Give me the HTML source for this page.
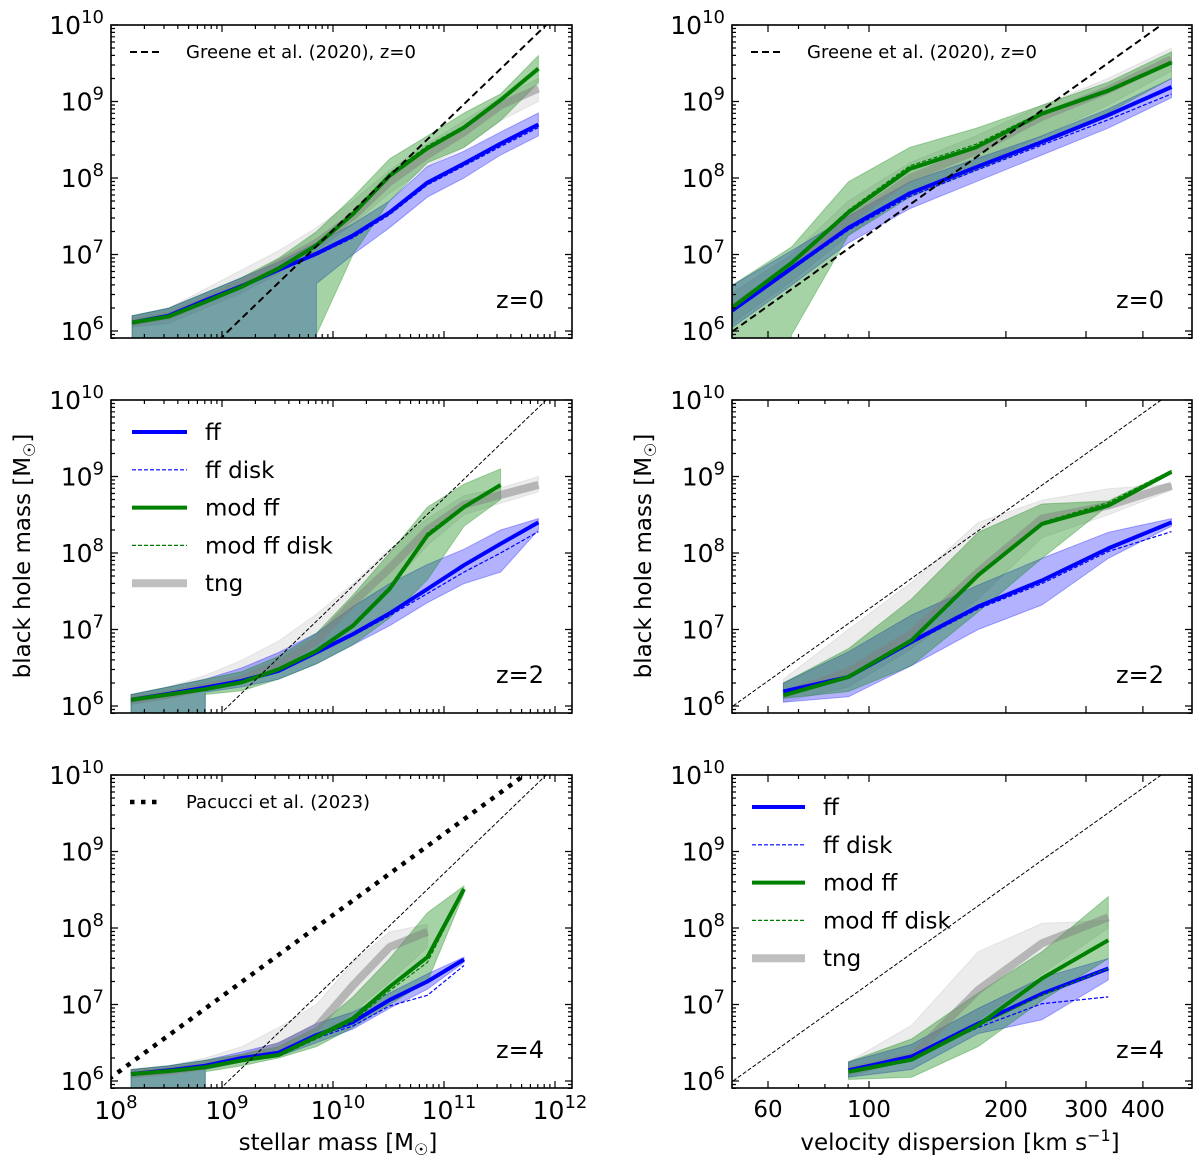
<!DOCTYPE html>
<html>
<head>
<meta charset="utf-8">
<style>
html,body{margin:0;padding:0;background:#fff;overflow:hidden;width:1200px;height:1172px;}
svg{display:block;font-family:"DejaVu Sans","Liberation Sans",sans-serif;}
</style>
</head>
<body>
<svg id="fig" width="1200" height="1172" viewBox="0 0 1200 1172" xmlns="http://www.w3.org/2000/svg"></svg>
<script>
// ---------- data (log10 values) ; -20 marks empty lower bound ----------
// z=0, stellar mass panel
const tl_x = [8.19,8.52,8.85,9.18,9.51,9.85,10.18,10.51,10.85,11.18,11.51,11.85];
const tl_ff = [6.11,6.20,6.40,6.59,6.80,7.01,7.25,7.55,7.94,8.19,8.45,8.70];
const tl_ffdisk = [6.10,6.19,6.39,6.58,6.79,6.99,7.22,7.52,7.91,8.16,8.41,8.66];
const tl_mod = [6.11,6.19,6.38,6.58,6.82,7.12,7.53,8.03,8.39,8.66,9.02,9.43];
const tl_moddisk = [6.11,6.19,6.38,6.58,6.83,7.14,7.56,8.06,8.42,8.68,9.03,9.42];
const tl_tng = [6.11,6.20,6.40,6.62,6.88,7.15,7.50,7.95,8.30,8.60,8.95,9.17];
const tl_ffLo = [-20,-20,-20,-20,-20,6.62,7.00,7.35,7.75,8.00,8.30,8.55];
const tl_ffHi = [6.20,6.30,6.50,6.70,6.90,7.15,7.40,7.70,8.15,8.35,8.60,8.85];
const tl_modLo = [-20,-20,-20,-20,-20,5.95,7.00,7.70,8.20,8.40,8.75,9.25];
const tl_modHi = [6.20,6.30,6.50,6.70,6.95,7.30,7.75,8.25,8.55,8.85,9.10,9.60];
const tl_tngLo = [6.05,6.10,6.30,6.50,6.75,7.05,7.40,7.80,8.15,8.40,8.75,9.00];
const tl_tngHi = [6.20,6.30,6.55,6.80,7.05,7.35,7.70,8.10,8.45,8.75,9.05,9.30];

// z=0, velocity dispersion panel
const tr_x = [1.70,1.83,1.955,2.09,2.235,2.38,2.525,2.665];
const tr_ff = [6.27,6.82,7.35,7.80,8.14,8.47,8.82,9.19];
const tr_ffdisk = [6.25,6.80,7.32,7.76,8.10,8.43,8.76,9.10];
const tr_mod = [6.31,6.89,7.55,8.12,8.40,8.84,9.14,9.51];
const tr_moddisk = [6.31,6.90,7.58,8.16,8.44,8.86,9.15,9.52];
const tr_tng = [6.30,6.85,7.45,8.00,8.35,8.80,9.15,9.55];
const tr_ffLo = [6.05,6.60,7.15,7.60,7.95,8.30,8.65,9.05];
const tr_ffHi = [6.60,7.05,7.50,7.95,8.25,8.55,8.90,9.30];
const tr_modLo = [-20,5.95,7.25,7.75,8.10,8.45,8.85,9.30];
const tr_modHi = [6.60,7.10,7.95,8.40,8.65,8.95,9.25,9.65];
const tr_tngLo = [6.10,6.65,7.25,7.80,8.15,8.55,8.95,9.40];
const tr_tngHi = [6.50,7.00,7.70,8.20,8.55,8.95,9.30,9.70];

// z=2, stellar mass panel
const ml_x = [8.18,8.52,8.85,9.18,9.51,9.85,10.18,10.51,10.85,11.18,11.51,11.85];
const ml_ff = [6.08,6.16,6.24,6.33,6.46,6.70,6.94,7.21,7.53,7.84,8.12,8.40];
const ml_ffdisk = [6.08,6.16,6.24,6.33,6.46,6.69,6.92,7.18,7.47,7.75,8.00,8.28];
const ml_mod = [6.08,6.15,6.22,6.31,6.48,6.72,7.05,7.53,8.23,8.60,8.89];
const ml_moddisk = [6.08,6.15,6.22,6.31,6.48,6.73,7.07,7.56,8.26,8.62,8.88];
const ml_tng = [6.08,6.15,6.25,6.35,6.55,6.85,7.35,7.80,8.30,8.63,8.76,8.89];
const ml_ffLo = [-20,-20,6.18,6.25,6.35,6.55,6.80,7.05,7.35,7.60,7.75,8.30];
const ml_ffHi = [6.15,6.25,6.35,6.50,6.70,6.95,7.30,7.60,7.85,8.05,8.30,8.45];
const ml_modLo = [-20,-20,6.15,6.20,6.35,6.55,6.80,7.15,7.65,8.35,8.70];
const ml_modHi = [6.15,6.25,6.35,6.45,6.65,6.95,7.45,8.00,8.60,8.90,9.10];
const ml_tngLo = [6.02,6.10,6.20,6.30,6.45,6.70,7.10,7.55,8.10,8.50,8.65,8.80];
const ml_tngHi = [6.15,6.25,6.40,6.60,6.85,7.20,7.60,8.05,8.45,8.75,8.85,9.00];

// z=2, velocity dispersion panel
const mr_x = [1.812,1.955,2.094,2.24,2.38,2.526,2.665];
const mr_ff = [6.19,6.38,6.84,7.30,7.64,8.06,8.40];
const mr_ffdisk = [6.18,6.37,6.82,7.27,7.60,8.02,8.28];
const mr_mod = [6.14,6.38,6.86,7.71,8.38,8.62,9.06];
const mr_moddisk = [6.14,6.38,6.87,7.73,8.40,8.66,9.08];
const mr_tng = [6.15,6.45,6.95,7.75,8.45,8.62,8.88];
const mr_ffLo = [6.05,6.12,6.53,7.00,7.32,7.93,8.35];
const mr_ffHi = [6.30,6.71,7.19,7.58,7.93,8.27,8.45];
const mr_modLo = [6.10,6.19,6.53,7.23,7.93,8.62,9.05];
const mr_modHi = [6.30,6.75,7.40,8.27,8.64,8.68,9.08];
const mr_tngLo = [6.05,6.25,6.75,7.40,8.20,8.50,8.82];
const mr_tngHi = [6.35,7.00,7.62,8.40,8.69,8.84,8.90];

// z=4, stellar mass panel
const bl_x = [8.18,8.52,8.85,9.18,9.51,9.85,10.18,10.51,10.85,11.18];
const bl_ff = [6.09,6.14,6.20,6.30,6.37,6.60,6.77,7.06,7.30,7.59];
const bl_ffdisk = [6.09,6.14,6.20,6.29,6.35,6.56,6.72,6.98,7.12,7.51];
const bl_mod = [6.09,6.13,6.18,6.27,6.34,6.58,6.82,7.23,7.62,8.51];
const bl_moddisk = [6.09,6.13,6.18,6.26,6.32,6.55,6.78,7.18,7.55,8.50];
const bl_tng = [6.09,6.13,6.20,6.30,6.45,6.70,7.25,7.75,7.95];
const bl_ffLo = [-20,-20,6.15,6.25,6.32,6.50,6.68,6.95,7.20,7.55];
const bl_ffHi = [6.15,6.20,6.27,6.38,6.50,6.75,6.90,7.15,7.40,7.62];
const bl_modLo = [-20,-20,6.12,6.20,6.30,6.45,6.70,7.00,7.30,8.45];
const bl_modHi = [6.15,6.20,6.27,6.35,6.45,6.70,7.10,7.60,8.20,8.55];
const bl_tngLo = [6.05,6.10,6.15,6.25,6.35,6.55,6.90,7.30,7.75];
const bl_tngHi = [6.15,6.20,6.30,6.45,6.70,7.00,7.55,7.95,8.05];

// z=4, velocity dispersion panel
const br_x = [1.955,2.094,2.24,2.38,2.526];
const br_ff = [6.14,6.32,6.75,7.14,7.47];
const br_ffdisk = [6.13,6.30,6.70,7.01,7.10];
const br_mod = [6.12,6.28,6.73,7.34,7.84];
const br_moddisk = [6.12,6.29,6.72,7.12,7.47];
const br_tng = [6.13,6.32,7.19,7.80,8.14];
const br_ffLo = [6.05,6.15,6.62,6.80,7.32];
const br_ffHi = [6.25,6.48,6.95,7.35,7.60];
const br_modLo = [6.02,6.05,6.45,7.05,7.60];
const br_modHi = [6.25,6.55,7.15,7.69,8.41];
const br_tngLo = [6.05,6.30,6.80,7.40,8.00];
const br_tngHi = [6.25,6.73,7.69,8.06,8.10];

// reference relations
const greene_mass_x = [8.9, 12.3];
const greene_mass_y = [5.78, 10.53];
const greene_sigma_x = [1.68, 2.72];
const greene_sigma_y = [5.91, 10.33];
const pacucci_x = [7.9, 12.3];
const pacucci_y = [5.94, 10.61];

// tick labels
const massTicks = [8,9,10,11,12];
const sigmaTicks = [60,100,200,300,400];
const sigmaMinor = [50,70,80,90];
const bhTicks = [6,7,8,9,10];

// ---------- geometry ----------
const NS = 'http://www.w3.org/2000/svg';
const svg = document.getElementById('fig');
const COLS = [{x0:111,x1:572,lo:8,hi:8+461/111},{x0:732,x1:1192,lo:1.699,hi:1.699+460/455}];
const ROWS = [25,400,775];
const PH = 313, DEC = 76.5;
function el(tag, parent){const e=document.createElementNS(NS,tag); parent.appendChild(e); return e;}
function sx(c,v){return c.x0+(v-c.lo)/(c.hi-c.lo)*(c.x1-c.x0);}
function sy(t,v){return t+(10-v)*DEC;}
function pts(c,t,xs,ys){return xs.slice(0,ys.length).map((x,i)=>sx(c,x).toFixed(1)+','+sy(t,ys[i]).toFixed(1)).join(' ');}

const panels = [
 {key:'z0-mass',c:0,r:0,x:tl_x,ff:tl_ff,ffd:tl_ffdisk,mod:tl_mod,modd:tl_moddisk,tng:tl_tng,ffLo:tl_ffLo,ffHi:tl_ffHi,modLo:tl_modLo,modHi:tl_modHi,tngLo:tl_tngLo,tngHi:tl_tngHi,z:'z=0'},
 {key:'z0-sigma',c:1,r:0,x:tr_x,ff:tr_ff,ffd:tr_ffdisk,mod:tr_mod,modd:tr_moddisk,tng:tr_tng,ffLo:tr_ffLo,ffHi:tr_ffHi,modLo:tr_modLo,modHi:tr_modHi,tngLo:tr_tngLo,tngHi:tr_tngHi,z:'z=0'},
 {key:'z2-mass',c:0,r:1,x:ml_x,ff:ml_ff,ffd:ml_ffdisk,mod:ml_mod,modd:ml_moddisk,tng:ml_tng,ffLo:ml_ffLo,ffHi:ml_ffHi,modLo:ml_modLo,modHi:ml_modHi,tngLo:ml_tngLo,tngHi:ml_tngHi,z:'z=2'},
 {key:'z2-sigma',c:1,r:1,x:mr_x,ff:mr_ff,ffd:mr_ffdisk,mod:mr_mod,modd:mr_moddisk,tng:mr_tng,ffLo:mr_ffLo,ffHi:mr_ffHi,modLo:mr_modLo,modHi:mr_modHi,tngLo:mr_tngLo,tngHi:mr_tngHi,z:'z=2'},
 {key:'z4-mass',c:0,r:2,x:bl_x,ff:bl_ff,ffd:bl_ffdisk,mod:bl_mod,modd:bl_moddisk,tng:bl_tng,ffLo:bl_ffLo,ffHi:bl_ffHi,modLo:bl_modLo,modHi:bl_modHi,tngLo:bl_tngLo,tngHi:bl_tngHi,z:'z=4'},
 {key:'z4-sigma',c:1,r:2,x:br_x,ff:br_ff,ffd:br_ffdisk,mod:br_mod,modd:br_moddisk,tng:br_tng,ffLo:br_ffLo,ffHi:br_ffHi,modLo:br_modLo,modHi:br_modHi,tngLo:br_tngLo,tngHi:br_tngHi,z:'z=4'}
];

const defs = el('defs', svg);

panels.forEach(p=>{
  const c = COLS[p.c], t = ROWS[p.r], b = t+PH;
  const g = el('g', svg);
  
  
  const cp = el('clipPath', defs); cp.setAttribute('id','clip-'+p.key);
  const cr = el('rect', cp); cr.setAttribute('x',c.x0); cr.setAttribute('y',t); cr.setAttribute('width',c.x1-c.x0); cr.setAttribute('height',PH);
  const pg = el('g', g); pg.setAttribute('clip-path','url(#clip-'+p.key+')');
  
  

  function band(lo,hi,fill,stroke,name){
    const n = Math.min(lo.length,hi.length);
    const xs = p.x.slice(0,n);
    const up = pts(c,t,xs,hi.slice(0,n));
    const low = [];
    let prevEmpty = false;
    for(let i=0;i<n;i++){
      const X = sx(c,xs[i]).toFixed(1);
      if(lo[i] <= -10){ low.push(X+','+(b+2)); prevEmpty = true; }
      else {
        if(prevEmpty) low.push(X+','+(b+2));
        low.push(X+','+Math.min(sy(t,lo[i]),b+2).toFixed(1));
        prevEmpty = false;
      }
    }
    const poly = el('polygon', pg);
    
    
    poly.setAttribute('points', up+' '+low.reverse().join(' '));
    poly.setAttribute('fill', fill);
    poly.setAttribute('stroke', stroke);
    poly.setAttribute('stroke-width','1');
  }
  function line(ys,stroke,w,dash,name,op){
    const pl = el('polyline', pg);
    
    
    pl.setAttribute('points', pts(c,t,p.x,ys));
    pl.setAttribute('fill','none');
    pl.setAttribute('stroke',stroke);
    pl.setAttribute('stroke-width',w);
    pl.setAttribute('stroke-linejoin','round');
    if(dash) pl.setAttribute('stroke-dasharray',dash);
    if(op) pl.setAttribute('stroke-opacity',op);
  }
  band(p.tngLo,p.tngHi,'rgba(128,128,128,0.15)','rgba(128,128,128,0.15)','tng-band');
  band(p.ffLo,p.ffHi,'rgba(0,0,255,0.3)','rgba(0,0,255,0.3)','ff-band');
  band(p.modLo,p.modHi,'rgba(0,128,0,0.35)','rgba(0,128,0,0.3)','mod-ff-band');
  line(p.tng,'#808080',8,null,'tng-line','0.5');
  line(p.ff,'#0000ff',4,null,'ff-line');
  line(p.ffd,'#0000ff',1.2,'4,2','ff-disk-line');
  line(p.mod,'#008000',4,null,'mod-ff-line');
  line(p.modd,'#008000',1.2,'4,2','mod-ff-disk-line');

  const ref = el('line', pg);
  
  
  const rx = p.c===0?greene_mass_x:greene_sigma_x, ry = p.c===0?greene_mass_y:greene_sigma_y;
  ref.setAttribute('x1',sx(c,rx[0])); ref.setAttribute('y1',sy(t,ry[0]));
  ref.setAttribute('x2',sx(c,rx[1])); ref.setAttribute('y2',sy(t,ry[1]));
  ref.setAttribute('stroke','#000');
  if(p.r===0){ref.setAttribute('stroke-width','2'); ref.setAttribute('stroke-dasharray','7,4');}
  else {ref.setAttribute('stroke-width','1'); ref.setAttribute('stroke-dasharray','4,2');}
  if(p.key==='z4-mass'){
    const pa = el('line', pg);
    
    
    pa.setAttribute('x1',sx(c,pacucci_x[0])); pa.setAttribute('y1',sy(t,pacucci_y[0]));
    pa.setAttribute('x2',sx(c,pacucci_x[1])); pa.setAttribute('y2',sy(t,pacucci_y[1]));
    pa.setAttribute('stroke','#000'); pa.setAttribute('stroke-width','4.5'); pa.setAttribute('stroke-dasharray','4.5,6.5');
  }

  const fr = el('rect', g);
  
  
  fr.setAttribute('x',c.x0); fr.setAttribute('y',t); fr.setAttribute('width',c.x1-c.x0); fr.setAttribute('height',PH);
  fr.setAttribute('fill','none'); fr.setAttribute('stroke','#000'); fr.setAttribute('stroke-width','1.6');

  let tp = '';
  function xt(v,len){const X=sx(c,v); if(X<c.x0-0.5||X>c.x1+0.5) return; tp+=`M${X.toFixed(1)},${b}v${-len}M${X.toFixed(1)},${t}v${len}`;}
  function yt(v,len){const Y=sy(t,v); if(Y<t-0.5||Y>b+0.5) return; tp+=`M${c.x0},${Y.toFixed(1)}h${len}M${c.x1},${Y.toFixed(1)}h${-len}`;}
  if(p.c===0){
    for(let d=7;d<=12;d++){ for(let k=1;k<=9;k++){ xt(d+Math.log10(k), k===1?7:4); } }
  } else {
    sigmaTicks.forEach(v=>xt(Math.log10(v),7));
    sigmaMinor.forEach(v=>xt(Math.log10(v),4));
  }
  for(let d=5;d<=10;d++){ for(let k=1;k<=9;k++){ yt(d+Math.log10(k), k===1?7:4); } }
  const tk = el('path', g);
  
  
  tk.setAttribute('d',tp); tk.setAttribute('stroke','#000'); tk.setAttribute('stroke-width','1.2'); tk.setAttribute('fill','none');

  bhTicks.forEach(v=>{
    const tx = el('text', g);
    
    
    tx.setAttribute('x', c.x0-7); tx.setAttribute('y', sy(t,v)+9);
    tx.setAttribute('text-anchor','end'); tx.setAttribute('font-size','25');
    tx.innerHTML = '10<tspan font-size="18" dy="-11">'+v+'</tspan>';
  });
  if(p.r===2){
    if(p.c===0){
      massTicks.forEach(v=>{
        const tx = el('text', g);
        
        
        tx.setAttribute('x', sx(c,v)+5); tx.setAttribute('y', b+31);
        tx.setAttribute('text-anchor','middle'); tx.setAttribute('font-size','25');
        tx.innerHTML = '10<tspan font-size="18" dy="-11">'+v+'</tspan>';
      });
    } else {
      sigmaTicks.forEach(v=>{
        const tx = el('text', g);
        
        
        tx.setAttribute('x', sx(c,Math.log10(v))); tx.setAttribute('y', b+29);
        tx.setAttribute('text-anchor','middle'); tx.setAttribute('font-size','23');
        tx.textContent = v;
      });
    }
  }
  const zl = el('text', g);
  
  
  zl.setAttribute('x', c.x1-28); zl.setAttribute('y', t+283);
  zl.setAttribute('text-anchor','end'); zl.setAttribute('font-size','24');
  zl.textContent = p.z;

  if(p.r===0 || p.key==='z4-mass'){
    const lg = el('g', g);
    
    
    const h = el('line', lg);
    h.setAttribute('x1',c.x0+19); h.setAttribute('x2',c.x0+52); h.setAttribute('y1',t+27); h.setAttribute('y2',t+27);
    h.setAttribute('stroke','#000');
    if(p.r===0){h.setAttribute('stroke-width','2'); h.setAttribute('stroke-dasharray','7,4');}
    else {h.setAttribute('stroke-width','4.5'); h.setAttribute('stroke-dasharray','4.5,6.5');}
    const lt = el('text', lg);
    lt.setAttribute('x', c.x0+75); lt.setAttribute('y', t+33); lt.setAttribute('font-size','18');
    lt.textContent = p.r===0 ? 'Greene et al. (2020), z=0' : 'Pacucci et al. (2023)';
  }

  if(p.key==='z2-mass' || p.key==='z4-sigma'){
    const lg = el('g', g);
    
    
    const items = [['ff','#0000ff',4,null,1],['ff disk','#0000ff',1.2,'4,2',1],['mod ff','#008000',4,null,1],['mod ff disk','#008000',1.2,'4,2',1],['tng','#808080',8,null,0.5]];
    const hx0 = p.c===0?c.x0+21:c.x0+20, hx1 = p.c===0?c.x0+76:c.x0+73, tx0 = p.c===0?c.x0+94:c.x0+91;
    items.forEach((it,i)=>{
      const yy = t+32+i*37.8;
      const h = el('line', lg);
      h.setAttribute('x1',hx0); h.setAttribute('x2',hx1); h.setAttribute('y1',yy); h.setAttribute('y2',yy);
      h.setAttribute('stroke',it[1]); h.setAttribute('stroke-width',it[2]); h.setAttribute('stroke-opacity',it[4]);
      if(it[3]) h.setAttribute('stroke-dasharray',it[3]);
      const tx = el('text', lg);
      tx.setAttribute('x',tx0); tx.setAttribute('y',yy+8); tx.setAttribute('font-size','23');
      tx.textContent = it[0];
    });
  }
});

function title(txt,x,y,rot,name){
  const tx = el('text', svg);
  
  
  tx.setAttribute('x',x); tx.setAttribute('y',y); tx.setAttribute('text-anchor','middle'); tx.setAttribute('font-size','23');
  if(rot) tx.setAttribute('transform','rotate(-90 '+x+' '+y+')');
  tx.innerHTML = txt;
}
title('stellar mass [M<tspan font-size="16" dy="5">☉</tspan><tspan dy="-5">]</tspan>',338,1150,false,'x-axis-title-mass');
title('velocity dispersion [km s<tspan font-size="16" dy="-9">−1</tspan><tspan dy="9">]</tspan>',960,1150,false,'x-axis-title-sigma');
title('black hole mass [M<tspan font-size="16" dy="5">☉</tspan><tspan dy="-5">]</tspan>',30,556,true,'y-axis-title-left');
title('black hole mass [M<tspan font-size="16" dy="5">☉</tspan><tspan dy="-5">]</tspan>',651,556,true,'y-axis-title-right');
</script>
</body>
</html>
